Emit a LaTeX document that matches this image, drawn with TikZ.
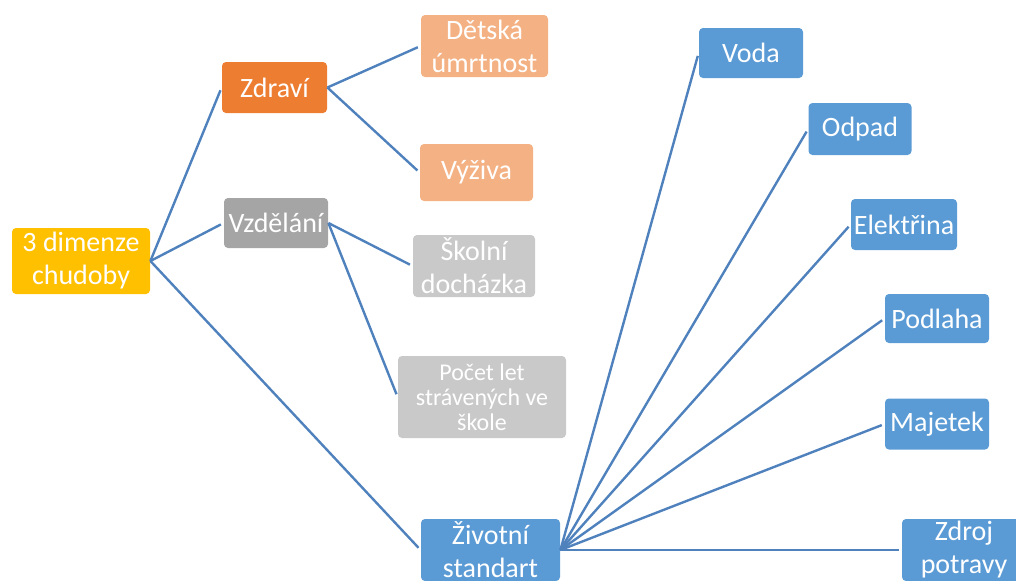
\documentclass[tikz,border=0pt]{standalone}
\usepackage{fontspec}
\setmainfont{Carlito}
\usepackage{xcolor}
\usepackage{tikz}
\usetikzlibrary{positioning}
\definecolor{rootcolor}{RGB}{255,192,0}
\definecolor{healthcolor}{RGB}{237,125,49}
\definecolor{healthlight}{RGB}{244,177,131}
\definecolor{educolor}{RGB}{165,165,165}
\definecolor{edulight}{RGB}{201,201,201}
\definecolor{livingcolor}{RGB}{91,155,213}
\definecolor{linkcolor}{RGB}{79,129,189}

\begin{document}
\begin{tikzpicture}[
    x=0.5pt, y=-0.5pt,
    box/.style={rounded corners=2pt, inner sep=0pt, align=center, text=white, font=\fontsize{14}{16.5}\selectfont},
    link/.style={draw=linkcolor, line width=1.2pt, shorten >=1.5pt}
]
    \useasboundingbox (0,0) rectangle (1016,580);

    % Main branches
    \node[box, fill=rootcolor, minimum width=69pt, minimum height=33pt] (root) at (81,261) {3 dimenze\\chudoby};
    \node[box, fill=healthcolor, minimum width=52.5pt, minimum height=25.5pt] (health) at (274.5,87.5) {Zdraví};
    \node[box, fill=educolor, minimum width=52pt, minimum height=25pt] (edu) at (276,223) {Vzdělání};
    \node[box, fill=livingcolor, minimum width=69.5pt, minimum height=31pt] (living) at (490.5,550) {Životní\\standart};

    % Health
    \node[box, fill=healthlight, minimum width=63.5pt, minimum height=31pt] (mortality) at (484.5,46) {Dětská\\úmrtnost};
    \node[box, fill=healthlight, minimum width=56.5pt, minimum height=28.5pt] (nutrition) at (476.5,172.5) {Výživa};

    % Education
    \node[box, fill=edulight, minimum width=61pt, minimum height=31pt] (attendance) at (474,266) {Školní\\docházka};
    \node[box, fill=edulight, minimum width=84pt, minimum height=41pt, font=\fontsize{12}{12.5}\selectfont] (years) at (482,397) {Počet let\\strávených ve\\škole};

    % Living standard
    \node[box, fill=livingcolor, minimum width=52pt, minimum height=25pt] (water) at (751,53) {Voda};
    \node[box, fill=livingcolor, minimum width=51.5pt, minimum height=26pt] (waste) at (860,129) {Odpad};
    \node[box, fill=livingcolor, minimum width=53pt, minimum height=25.5pt] (power) at (904,224.5) {Elektřina};
    \node[box, fill=livingcolor, minimum width=52pt, minimum height=24.5pt] (floor) at (937,318.5) {Podlaha};
    \node[box, fill=livingcolor, minimum width=52pt, minimum height=25.5pt] (assets) at (937,424) {Majetek};
    \node[box, fill=livingcolor, minimum width=62pt, minimum height=31pt] (food) at (964,550) {Zdroj\\potravy};

    % Connectors
    \draw[link] (root.east) -- (health.west);
    \draw[link] (root.east) -- (edu.west);
    \draw[link] (root.east) -- (living.west);
    \draw[link] (health.east) -- (mortality.west);
    \draw[link] (health.east) -- (nutrition.west);
    \draw[link] (edu.east) -- (attendance.west);
    \draw[link] (edu.east) -- (years.west);
    \draw[link] (living.east) -- (water.west);
    \draw[link] (living.east) -- (waste.west);
    \draw[link] (living.east) -- (power.west);
    \draw[link] (living.east) -- (floor.west);
    \draw[link] (living.east) -- (assets.west);
    \draw[link] (living.east) -- (food.west);
\end{tikzpicture}
\end{document}
